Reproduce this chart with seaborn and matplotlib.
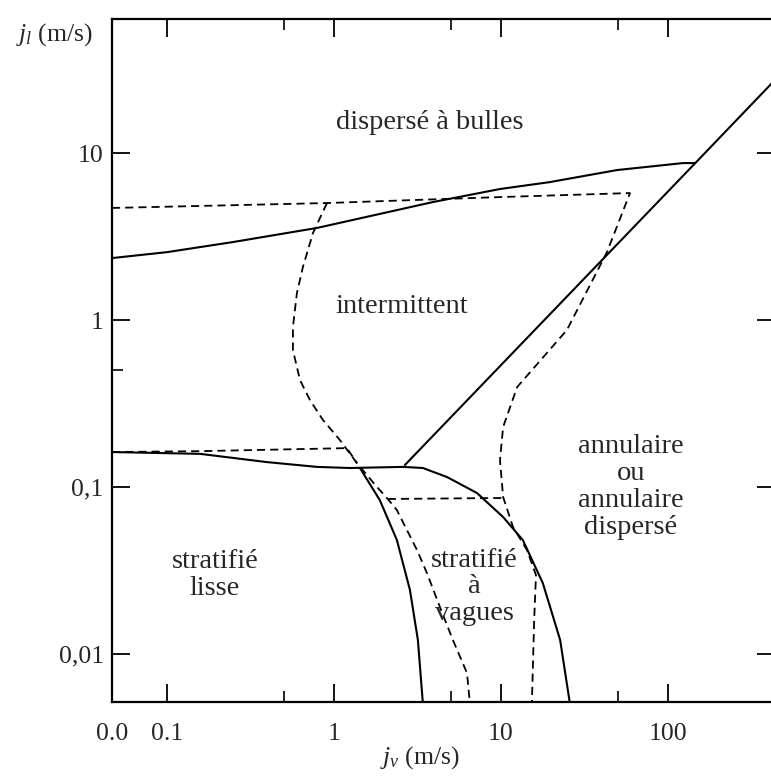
import matplotlib
matplotlib.use("Agg")
import matplotlib.pyplot as plt
import seaborn as sns
import numpy as np
import pandas as pd
from matplotlib.ticker import FixedLocator, NullFormatter

# ---------------- data ----------------
# solid boundaries (Taitel-Dukler type)
bubble_x = [0.0469, 0.1, 0.248, 0.791, 3.92, 9.86, 19.6, 49.5, 123, 145]
bubble_y = [2.35, 2.55, 2.93, 3.56, 5.09, 6.09, 6.70, 7.91, 8.71, 8.71]

annular_x = [2.66, 145, 437]
annular_y = [0.1355, 8.67, 27.4]

strat_x = [0.0469, 0.158, 0.397, 0.791, 1.247, 2.59, 3.41, 4.75, 7.18, 10.3, 13.5, 17.8, 22.6, 25.9]
strat_y = [0.162, 0.158, 0.141, 0.132, 0.130, 0.132, 0.130, 0.1148, 0.0921, 0.0661, 0.0482, 0.0266, 0.01214, 0.005]

wavy_x = [1.43, 1.88, 2.38, 2.85, 3.18, 3.41]
wavy_y = [0.130, 0.0836, 0.0482, 0.0242, 0.01214, 0.005]

# dashed boundaries (Mandhane type)
m_top_x = [0.0469, 0.908, 9.86, 59.2, 43.1, 24.8, 18.8, 12.5, 10.3, 9.86, 10.3, 11.8, 14.3, 16.2, 15.8, 15.3]
m_top_y = [4.69, 5.02, 5.45, 5.76, 2.55, 0.871, 0.634, 0.397, 0.229, 0.145, 0.0871, 0.0576, 0.042, 0.0297, 0.016, 0.005]

m_left_x = [0.908, 0.749, 0.652, 0.600, 0.568, 0.568, 0.626, 0.718, 0.859, 1.086, 1.373, 1.81, 2.10,
            2.38, 3.14, 3.60, 4.31, 5.16, 6.26, 6.52]
m_left_y = [5.02, 3.32, 2.08, 1.45, 0.908, 0.661, 0.437, 0.332, 0.252, 0.191, 0.139, 0.1, 0.0848,
            0.0728, 0.042, 0.0306, 0.0191, 0.0121, 0.00769, 0.005]

m_strat_x = [0.0469, 0.158, 1.196, 1.373]
m_strat_y = [0.162, 0.164, 0.171, 0.139]

m_wavy_x = [2.10, 10.3]
m_wavy_y = [0.0848, 0.0860]

# region labels
region_labels = ["dispersé à bulles", "intermittent", "annulaire\nou\nannulaire\ndispersé",
                 "stratifié\nà\nvagues", "stratifié\nlisse"]
region_x = [3.76, 2.55, 60.0, 6.89, 0.194]
region_y = [15.3, 1.20, 0.100, 0.0252, 0.0297]

xtick_vals = [0.0469, 0.1, 1, 10, 100]
xtick_labels = ["0.0", "0.1", "1", "10", "100"]
xminor_vals = [0.5, 5, 50]
ytick_vals = [0.01, 0.1, 1, 10]
ytick_labels = ["0,01", "0,1", "1", "10"]
yminor_vals = [0.5]

# ---------------- figure ----------------
sns.set_theme(style="white")
plt.rcParams["font.family"] = ["Liberation Serif", "DejaVu Serif"]
plt.rcParams["mathtext.fontset"] = "custom"
plt.rcParams["mathtext.rm"] = "Liberation Serif"
plt.rcParams["mathtext.it"] = "Liberation Serif:italic"

W, H = 771, 776
fig = plt.figure(figsize=(W / 100, H / 100), dpi=100)
ax = fig.add_axes([112 / W, 1 - 702 / H, (775 - 112) / W, (702 - 19) / H])

def solid(x, y):
    sns.lineplot(x=x, y=y, sort=False, estimator=None, color="black", lw=1.5, ax=ax)

def dashed(x, y):
    sns.lineplot(x=x, y=y, sort=False, estimator=None, color="black", lw=1.3,
                 dashes=False, linestyle=(0, (4.5, 2.8)), ax=ax)

solid(bubble_x, bubble_y)
solid(annular_x, annular_y)
solid(strat_x, strat_y)
solid(wavy_x, wavy_y)
dashed(m_top_x, m_top_y)
dashed(m_left_x, m_left_y)
dashed(m_strat_x, m_strat_y)
dashed(m_wavy_x, m_wavy_y)

ax.set_xscale("log")
ax.set_yscale("log")
ax.set_xlim(0.0469, 437)
ax.set_ylim(0.00516, 63.5)

for lab, x, y in zip(region_labels, region_x, region_y):
    ax.text(x, y, lab, ha="center", va="center", fontsize=20.5, linespacing=1.1)

# ticks
ax.xaxis.set_major_locator(FixedLocator(xtick_vals))
ax.set_xticklabels(xtick_labels)
ax.xaxis.set_minor_locator(FixedLocator(xminor_vals))
ax.xaxis.set_minor_formatter(NullFormatter())
ax.yaxis.set_major_locator(FixedLocator(ytick_vals))
ax.set_yticklabels(ytick_labels)
ax.yaxis.set_minor_locator(FixedLocator(yminor_vals))
ax.yaxis.set_minor_formatter(NullFormatter())

ax.tick_params(which="major", direction="in", length=13, width=1.3, color="black",
               top=True, bottom=True, left=True, right=True, labelsize=18.5)
ax.tick_params(which="minor", direction="in", length=8, width=1.2, color="black",
               top=True, bottom=True, left=True, right=False)
ax.tick_params(axis="x", which="major", pad=15)
ax.tick_params(axis="y", which="major", pad=6)

for side in ["left", "bottom", "top"]:
    ax.spines[side].set_color("black")
    ax.spines[side].set_linewidth(1.6)
ax.spines["right"].set_visible(False)

ax.set_xlabel(r"$j_v$ (m/s)", fontsize=18.5, va="top")
ax.xaxis.set_label_coords(0.4646, -0.062)
ax.set_ylabel(r"$j_l$ (m/s)", fontsize=18.5, rotation=0, ha="center", va="center")
ax.yaxis.set_label_coords(-0.086, 0.977)

ax.grid(False)
fig.savefig("out.png", dpi=100)
